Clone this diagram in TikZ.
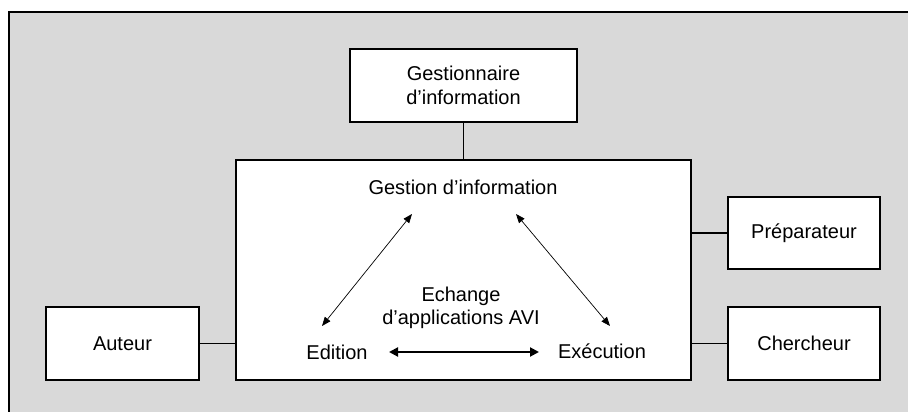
\documentclass[tikz,border=0pt]{standalone}
\usepackage{fontspec}
\setmainfont{Liberation Sans}
\usetikzlibrary{arrows.meta}
\definecolor{bggray}{RGB}{217,217,217}
\begin{document}
\begin{tikzpicture}[x=1pt,y=-1pt,
  box/.style={draw=black,line width=1.7pt,fill=white,inner sep=0pt,align=center},
  lbl/.style={inner sep=0pt,align=center},
  link/.style={line width=1.8pt},
  thinarrow/.style={line width=0.7pt,{Triangle[length=9pt,width=7pt]}-{Triangle[length=9pt,width=7pt]}},
  thickarrow/.style={line width=2pt,{Triangle[length=9pt,width=9pt]}-{Triangle[length=9pt,width=9pt]}}]
\fontsize{20}{23.5}\selectfont
\useasboundingbox (0,0) rectangle (908,412);
\fill[bggray] (9,12) rectangle (908,412);
\draw[line width=1.7pt] (908,12) -- (9,12) -- (9,412);

\node[box,minimum width=227pt,minimum height=73pt] (gest) at (463.5,85.5) {Gestionnaire\\d’information};
\node[box,minimum width=455pt,minimum height=220pt] (main) at (463.5,270) {};
\node[box,minimum width=152pt,minimum height=72pt] (prep) at (804,233) {Préparateur};
\node[box,minimum width=152pt,minimum height=73pt] (cherch) at (804,343.5) {Chercheur};
\node[box,minimum width=153pt,minimum height=73pt] (aut) at (122.5,343.5) {Auteur};

\draw[link] (gest.south) -- (main.north);
\draw[link] (prep.west) -- (prep.west -| main.east);
\draw[link] (cherch.west) -- (cherch.west -| main.east);
\draw[link] (aut.east) -- (aut.east -| main.west);

\node[lbl] (gi) at (463,187) {Gestion d’information};
\node[lbl] (ech) at (461,308) {Echange\\d’applications AVI};
\node[lbl] (edit) at (337,352) {Edition};
\node[lbl] (exec) at (602,351) {Exécution};

\coordinate (l1) at (412,214);
\coordinate (l2) at (322,326);
\coordinate (r1) at (516,214);
\coordinate (r2) at (610,326);
\coordinate (h1) at (389,352);
\coordinate (h2) at (539,352);
\draw[thinarrow] (l1) -- (l2);
\draw[thinarrow] (r1) -- (r2);
\draw[thickarrow] (h1) -- (h2);
\end{tikzpicture}
\end{document}
